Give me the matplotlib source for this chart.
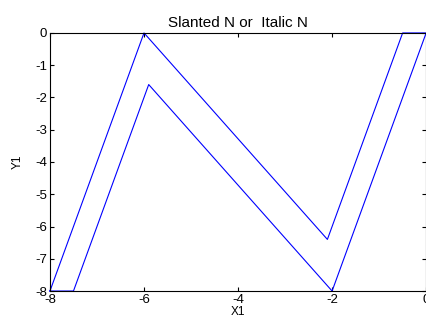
import matplotlib
matplotlib.use("Agg")
import matplotlib.pyplot as plt

plt.rcParams['font.family'] = ['Liberation Sans', 'DejaVu Sans']

x = [-8, -6, -2.1, -0.5, 0, -2, -5.9, -7.5, -8]
y = [-8, 0, -6.4, 0, 0, -8, -1.6, -8, -8]
xticks = [-8, -6, -4, -2, 0]
yticks = [0, -1, -2, -3, -4, -5, -6, -7, -8]

fig = plt.figure(figsize=(4.27, 3.23), dpi=100)
ax = fig.add_axes([0.117, 0.099, 0.881, 0.799])
ax.plot(x, y, color='#0000ff', linewidth=0.8, clip_on=False)
ax.set_xlim(-8, 0)
ax.set_ylim(-8, 0)
ax.set_xticks(xticks)
ax.set_yticks(yticks)
ax.set_xticklabels([str(v) for v in xticks])
ax.set_yticklabels([str(v) for v in yticks])
ax.tick_params(direction='in', length=3, width=0.8, labelsize=9.5, top=True, right=True, pad=2)
for s in ax.spines.values():
    s.set_linewidth(0.8)
ax.set_title('Slanted N or  Italic N', fontsize=11, pad=4)
ax.set_xlabel('X1', fontsize=8.5, labelpad=0)
ax.set_ylabel('Y1', fontsize=8.5, labelpad=8)
fig.savefig('out.png', dpi=100)
